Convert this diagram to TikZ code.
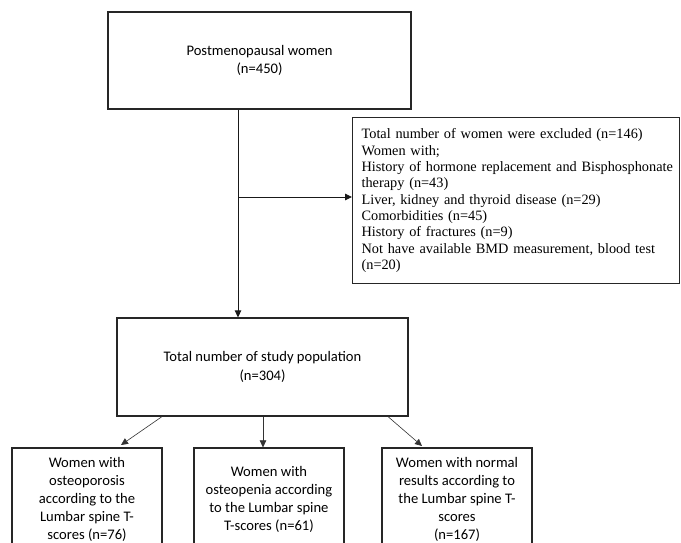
\documentclass[tikz,border=0pt]{standalone}
\usepackage{fontspec}
\setmainfont{Liberation Serif}
\newfontfamily\calib{Carlito}
\usetikzlibrary{arrows.meta}
\begin{document}
\begin{tikzpicture}[x=1pt,y=-1pt,
  box/.style={draw=black!85, line width=1.2pt, inner sep=0pt, align=center,
    font=\calib\fontsize{14.6}{18.8}\selectfont},
  lowbox/.style={box, minimum width=150pt, minimum height=102pt,
    font=\calib\fontsize{14.6}{18}\selectfont},
  exbox/.style={draw=black!85, line width=1.2pt, inner xsep=9pt, inner ysep=0pt,
    text width=309pt, align=left, minimum height=166pt, anchor=north west,
    font=\fontsize{14.3}{16.3}\selectfont},
  mainarr/.style={-{Triangle[length=7pt,width=6.5pt]}, line width=0.9pt, draw=black!90},
  thinarr/.style={-{Triangle[length=7pt,width=6.5pt]}, line width=0.6pt, draw=black!80}]
\useasboundingbox (0,0) rectangle (681,543);
\clip (0,0) rectangle (681,543);

\node[box, minimum width=303pt, minimum height=97pt] (pm) at (259.5,60.5)
  {Postmenopausal women\\(n=450)};
\node[box, minimum width=291pt, minimum height=98pt] (ps) at (262.5,367)
  {Total number of study population\\(n=304)};
\node[exbox] (ex) at (352,117)
  {\hyphenpenalty=10000
   \mbox{Total number of women were excluded (n=146)}\\
   Women with;\\
   \mbox{History of hormone replacement and Bisphosphonate}\\
   therapy (n=43)\\
   Liver, kidney and thyroid disease (n=29)\\
   Comorbidities (n=45)\\
   History of fractures (n=9)\\
   \mbox{Not have available BMD measurement, blood test}\\
   (n=20)};

\node[lowbox] (oa) at (87,499)
  {Women with\\osteoporosis\\according to the\\Lumbar spine T-\\scores (n=76)};
\node[lowbox] (ob) at (269,499)
  {Women with\\osteopenia according\\to the Lumbar spine\\T-scores (n=61)};
\node[lowbox] (oc) at (457,499)
  {Women with normal\\results according to\\the Lumbar spine T-\\scores\\(n=167)};

\coordinate (j) at (238,197);
\draw[mainarr] (pm.south -| j) -- (ps.north -| j);
\draw[mainarr] (j) -- (ex.west |- j);

\coordinate (ls) at (162,0);
\coordinate (ms) at (263,0);
\coordinate (rs) at (388,0);
\coordinate (le) at (121,445);
\coordinate (re) at (422,446);
\draw[thinarr] (ps.south -| ls) -- (le);
\draw[thinarr] (ps.south -| ms) -- (ob.north -| ms);
\draw[thinarr] (ps.south -| rs) -- (re);
\end{tikzpicture}
\end{document}
